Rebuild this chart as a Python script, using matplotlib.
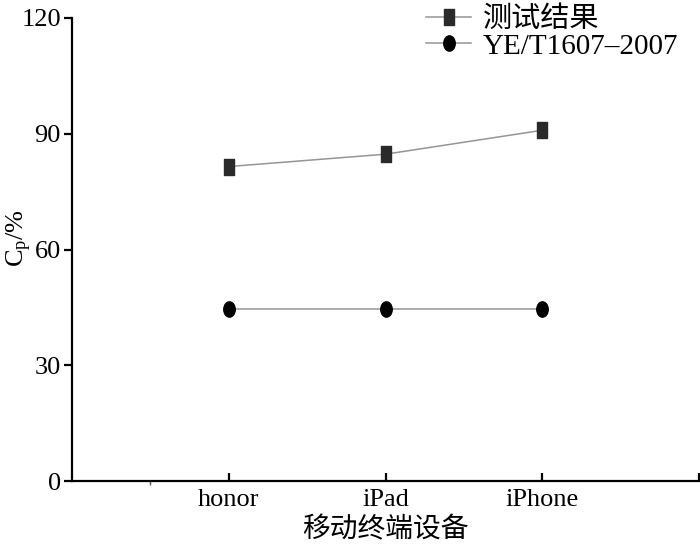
import numpy as np
import matplotlib
matplotlib.use('Agg')
import matplotlib.pyplot as plt
from matplotlib.path import Path

plt.rcParams['font.family'] = ['Liberation Serif', 'Noto Sans CJK SC']
plt.rcParams['mathtext.fontset'] = 'custom'
plt.rcParams['mathtext.rm'] = 'Liberation Serif'
plt.rcParams['mathtext.it'] = 'Liberation Serif'

devices = ['honor', 'iPad', 'iPhone']
measured = [81.5, 84.7, 90.9]
standard = [44.5, 44.5, 44.5]
yticks = [0, 30, 60, 90, 120]

# tall-ish markers like in the original figure
rect = Path([(-0.34, -0.5), (0.34, -0.5), (0.34, 0.5), (-0.34, 0.5), (-0.34, -0.5)],
            [Path.MOVETO, Path.LINETO, Path.LINETO, Path.LINETO, Path.CLOSEPOLY])
circ = Path.unit_circle()
ell = Path(circ.vertices * np.array([0.75, 1.0]), circ.codes)

fig = plt.figure(figsize=(7, 5.45), dpi=100)
ax = fig.add_axes([0.103, 0.1174, 0.8956, 0.8496])

x = np.arange(1, len(devices) + 1)
ax.plot(x, measured, color='#959595', lw=1.1, marker=rect, markersize=11,
        markerfacecolor='#2a2a2a', markeredgecolor='#2a2a2a', label='测试结果')
ax.plot(x, standard, color='#959595', lw=1.1, marker=ell, markersize=11,
        markerfacecolor='black', markeredgecolor='black', label='YE/T1607–2007')

ax.set_xlim(0, 4)
ax.set_ylim(0, 120)
ax.set_xticks([1, 2, 3, 4])
ax.set_xticklabels(devices + [''])
ax.set_xticks([0.5], minor=True)
ax.set_yticks(yticks)
ax.spines['top'].set_visible(False)
ax.spines['right'].set_visible(False)
ax.spines['left'].set_linewidth(1.6)
ax.spines['bottom'].set_linewidth(1.6)
ax.tick_params(axis='y', direction='out', length=6, width=1.6, labelsize=19, pad=2)
ax.tick_params(axis='x', direction='in', length=6, width=1.6, labelsize=19, pad=6)
ax.tick_params(axis='x', which='minor', direction='out', length=3, width=1, color='#555555')

ax.set_xlabel('移动终端设备', fontsize=20, labelpad=4)
ax.set_ylabel(r'C$_\mathrm{p}$/%', fontsize=19)
ax.yaxis.set_label_coords(-0.06, 0.525)

leg = ax.legend(loc='upper right', bbox_to_anchor=(0.986, 1.05), frameon=False,
                fontsize=21, handlelength=1.55, handletextpad=0.4, labelspacing=0.0,
                borderaxespad=0)

fig.savefig('out.png', dpi=100)
